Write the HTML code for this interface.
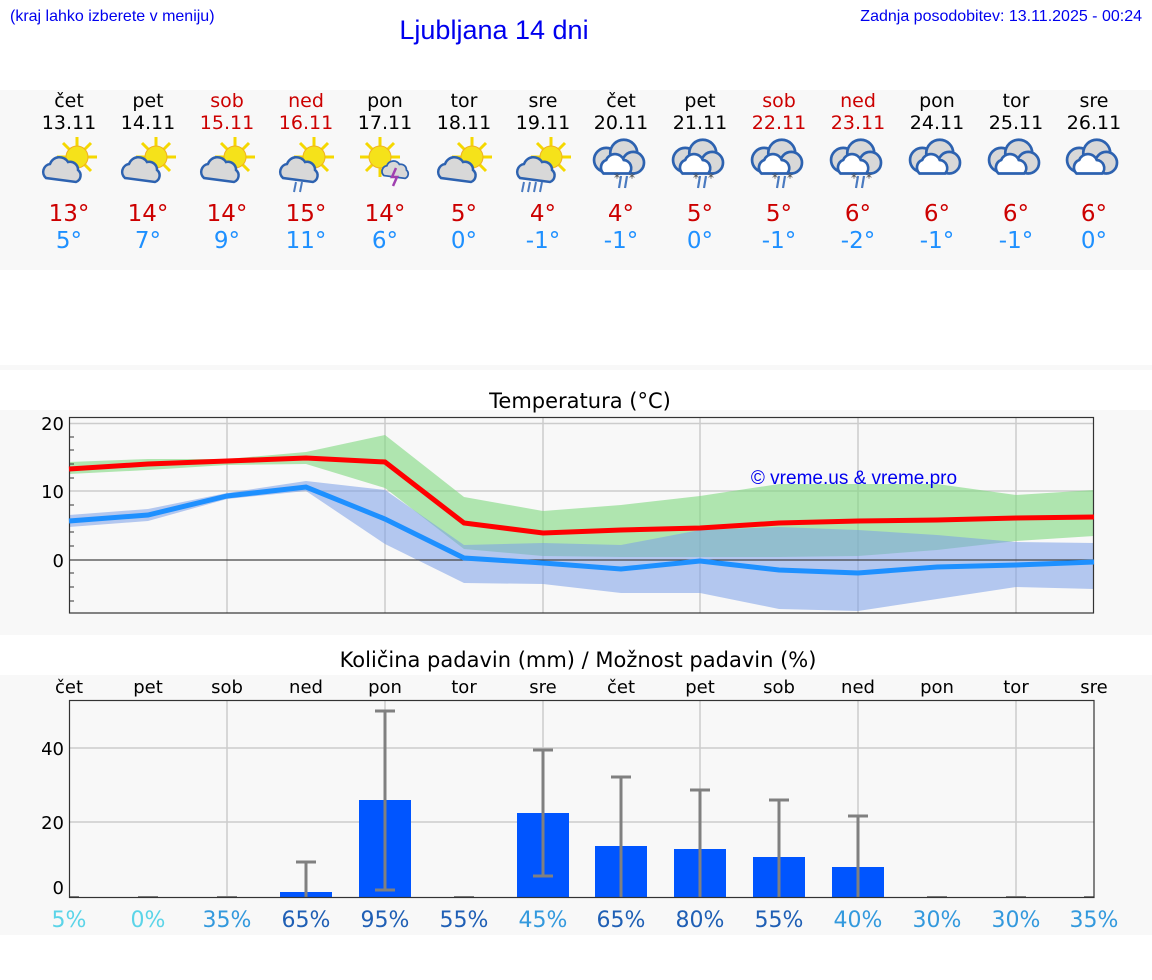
<!DOCTYPE html>
<html><head><meta charset="utf-8"><style>
body{margin:0;background:#fff;width:1152px;height:975px;overflow:hidden;font-family:"Liberation Sans","DejaVu Sans",sans-serif}
svg text{font-family:"DejaVu Sans","Liberation Sans",sans-serif}
</style></head><body>
<svg width="1152" height="975" xmlns="http://www.w3.org/2000/svg">
<defs>
<g id="sun"><g stroke="#f5d800" stroke-width="3"><line x1="0" y1="-20" x2="0" y2="20"/><line x1="-20" y1="0" x2="20" y2="0"/><line x1="-14" y1="-14" x2="14" y2="14"/><line x1="-14" y1="14" x2="14" y2="-14"/></g><circle r="11" fill="#f5e21a" stroke="#f0b020" stroke-width="1"/></g>
<g id="cl"><path d="M-20,8 a8,8 0 0 1 4,-14 a10,10 0 0 1 18,-2 a8,8 0 0 1 10,8 a7,7 0 0 1 -2,12 z" fill="#d8d8d8" stroke="#2d62b0" stroke-width="2.5"/></g>
<g id="bc0"><circle cx="-8" cy="0" r="9" fill="#d8d8d8" stroke="#2d62b0" stroke-width="2"/><circle cx="5" cy="-5" r="10" fill="#d8d8d8" stroke="#2d62b0" stroke-width="2"/><circle cx="12" cy="2" r="8" fill="#d8d8d8" stroke="#2d62b0" stroke-width="2"/><path d="M-10,10 a6,6 0 0 1 2,-10 a7,7 0 0 1 13,0 a6,6 0 0 1 4,10 z" fill="#fff" stroke="#2d62b0" stroke-width="2"/></g>
<g id="bc"><use href="#bc0" transform="scale(1.35)"/></g>
<g id="sn"><path d="M-3,4 l-2,12 M3,4 l-2,12" stroke="#4a7ac0" stroke-width="2.2"/><text x="-10" y="10" font-size="12" fill="#444">*</text><text x="5" y="10" font-size="12" fill="#444">*</text></g>
</defs>
<text x="10" y="21" font-size="16" fill="#0000ee" style="font-family:'Liberation Sans'">(kraj lahko izberete v meniju)</text>
<text x="494" y="39" font-size="27" fill="#0000ee" text-anchor="middle" style="font-family:'Liberation Sans'">Ljubljana 14 dni</text>
<text x="1142" y="21" font-size="16" fill="#0000ee" text-anchor="end" style="font-family:'Liberation Sans'">Zadnja posodobitev: 13.11.2025 - 00:24</text>
<rect x="0" y="90" width="1152" height="180" fill="#f8f8f8"/>
<rect x="0" y="365" width="1152" height="5" fill="#f8f8f8"/>
<rect x="0" y="410" width="1152" height="225" fill="#f8f8f8"/>
<rect x="0" y="675" width="1152" height="260" fill="#f8f8f8"/>
<g font-size="19" text-anchor="middle">
<g fill="#000"><text x="69" y="107">čet</text><text x="69" y="129">13.11</text></g>
<g fill="#000"><text x="148" y="107">pet</text><text x="148" y="129">14.11</text></g>
<g fill="#cc0000"><text x="227" y="107">sob</text><text x="227" y="129">15.11</text></g>
<g fill="#cc0000"><text x="306" y="107">ned</text><text x="306" y="129">16.11</text></g>
<g fill="#000"><text x="385" y="107">pon</text><text x="385" y="129">17.11</text></g>
<g fill="#000"><text x="464" y="107">tor</text><text x="464" y="129">18.11</text></g>
<g fill="#000"><text x="543" y="107">sre</text><text x="543" y="129">19.11</text></g>
<g fill="#000"><text x="621" y="107">čet</text><text x="621" y="129">20.11</text></g>
<g fill="#000"><text x="700" y="107">pet</text><text x="700" y="129">21.11</text></g>
<g fill="#cc0000"><text x="779" y="107">sob</text><text x="779" y="129">22.11</text></g>
<g fill="#cc0000"><text x="858" y="107">ned</text><text x="858" y="129">23.11</text></g>
<g fill="#000"><text x="937" y="107">pon</text><text x="937" y="129">24.11</text></g>
<g fill="#000"><text x="1016" y="107">tor</text><text x="1016" y="129">25.11</text></g>
<g fill="#000"><text x="1094" y="107">sre</text><text x="1094" y="129">26.11</text></g>
</g>
<g>
<use href="#sun" x="77" y="157"/><use href="#cl" x="66" y="170"/>
<use href="#sun" x="156" y="157"/><use href="#cl" x="145" y="170"/>
<use href="#sun" x="235" y="157"/><use href="#cl" x="224" y="170"/>
<use href="#sun" x="314" y="157"/><use href="#cl" x="303" y="170"/><path d="M296,182 l-2,10 M302,182 l-2,10" stroke="#4a7ac0" stroke-width="2"/>
<use href="#sun" x="380" y="157"/><use href="#cl" x="398" y="170" transform="translate(398 170) scale(0.7) translate(-398 -170)"/><path d="M396,168 l-4,9 h5 l-4,9" stroke="#a040b0" stroke-width="2.5" fill="none"/>
<use href="#sun" x="472" y="157"/><use href="#cl" x="461" y="170"/>
<use href="#sun" x="551" y="157"/><use href="#cl" x="540" y="170"/><path d="M524,182 l-2,10 M530,182 l-2,10 M536,182 l-2,10 M542,182 l-2,10" stroke="#4a7ac0" stroke-width="2"/>
<use href="#bc" x="617" y="160"/><use href="#sn" x="624" y="172"/>
<use href="#bc" x="696" y="160"/><use href="#sn" x="703" y="172"/>
<use href="#bc" x="775" y="160"/><use href="#sn" x="782" y="172"/>
<use href="#bc" x="854" y="160"/><use href="#sn" x="861" y="172"/>
<use href="#bc" x="933" y="160"/><use href="#bc" x="1012" y="160"/><use href="#bc" x="1090" y="160"/>
</g>
<g font-size="23" text-anchor="middle" fill="#cc0000">
<text x="69" y="221">13°</text><text x="148" y="221">14°</text><text x="227" y="221">14°</text><text x="306" y="221">15°</text><text x="385" y="221">14°</text><text x="464" y="221">5°</text><text x="543" y="221">4°</text><text x="621" y="221">4°</text><text x="700" y="221">5°</text><text x="779" y="221">5°</text><text x="858" y="221">6°</text><text x="937" y="221">6°</text><text x="1016" y="221">6°</text><text x="1094" y="221">6°</text>
</g>
<g font-size="23" text-anchor="middle" fill="#1e90ff">
<text x="69" y="248">5°</text><text x="148" y="248">7°</text><text x="227" y="248">9°</text><text x="306" y="248">11°</text><text x="385" y="248">6°</text><text x="464" y="248">0°</text><text x="543" y="248">-1°</text><text x="621" y="248">-1°</text><text x="700" y="248">0°</text><text x="779" y="248">-1°</text><text x="858" y="248">-2°</text><text x="937" y="248">-1°</text><text x="1016" y="248">-1°</text><text x="1094" y="248">0°</text>
</g>
<text x="580" y="408" font-size="21" text-anchor="middle">Temperatura (°C)</text>
<g stroke="#cccccc" stroke-width="1.5">
<line x1="69" y1="423.5" x2="1094" y2="423.5"/><line x1="69" y1="491" x2="1094" y2="491"/>
<line x1="227" y1="417" x2="227" y2="613"/><line x1="385" y1="417" x2="385" y2="613"/><line x1="543" y1="417" x2="543" y2="613"/><line x1="700" y1="417" x2="700" y2="613"/><line x1="858" y1="417" x2="858" y2="613"/><line x1="1016" y1="417" x2="1016" y2="613"/>
</g>
<polygon fill="#7fd97f" fill-opacity="0.6" points="69,462 148,459 227,459 306,452 385,435 464,497 543,511 621,505 700,496 779,484 858,484 937,484 1016,495 1094,490 1094,536 1016,541 937,550 858,556 779,557 700,557 621,557 543,556 464,549 385,488 306,464 227,465 148,470 69,474"/>
<polygon fill="#7a9fe8" fill-opacity="0.55" points="69,515 148,509 227,493 306,481 385,490 464,545 543,543 621,545 700,530 779,527 858,530 937,535 1016,542 1094,543 1094,589 1016,587 937,599 858,611 779,609 700,593 621,593 543,584 464,583 385,544 306,491 227,499 148,521 69,527"/>
<line x1="69" y1="560" x2="1094" y2="560" stroke="#444" stroke-width="1.2"/>
<rect x="69.5" y="417.5" width="1024" height="195.5" fill="none" stroke="#333" stroke-width="1.2"/>
<g stroke="#333"><line x1="69" y1="437" x2="74" y2="437"/><line x1="69" y1="450" x2="74" y2="450"/><line x1="69" y1="464" x2="74" y2="464"/><line x1="69" y1="478" x2="74" y2="478"/><line x1="69" y1="505" x2="74" y2="505"/><line x1="69" y1="519" x2="74" y2="519"/><line x1="69" y1="532" x2="74" y2="532"/><line x1="69" y1="546" x2="74" y2="546"/><line x1="69" y1="573" x2="74" y2="573"/><line x1="69" y1="587" x2="74" y2="587"/><line x1="69" y1="601" x2="74" y2="601"/></g>
<g font-size="18" text-anchor="end"><text x="64" y="430">20</text><text x="64" y="498">10</text><text x="64" y="567">0</text></g>
<polyline fill="none" stroke="#ff0000" stroke-width="5" points="69,469 148,464 227,461 306,458 385,462 464,523 543,533 621,530 700,528 779,523 858,521 937,520 1016,518 1094,517"/>
<polyline fill="none" stroke="#1e90ff" stroke-width="5" points="69,521 148,515 227,496 306,487 385,519 464,558 543,563 621,569 700,561 779,570 858,573 937,567 1016,565 1094,562"/>
<text x="854" y="484" font-size="19" fill="#0000ee" text-anchor="middle" style="font-family:'Liberation Sans'">© vreme.us &amp; vreme.pro</text>
<text x="578" y="667" font-size="21" text-anchor="middle">Količina padavin (mm) / Možnost padavin (%)</text>
<g font-size="18" text-anchor="middle">
<text x="69" y="693">čet</text><text x="148" y="693">pet</text><text x="227" y="693">sob</text><text x="306" y="693">ned</text><text x="385" y="693">pon</text><text x="464" y="693">tor</text><text x="543" y="693">sre</text><text x="621" y="693">čet</text><text x="700" y="693">pet</text><text x="779" y="693">sob</text><text x="858" y="693">ned</text><text x="937" y="693">pon</text><text x="1016" y="693">tor</text><text x="1094" y="693">sre</text>
</g>
<g stroke="#cccccc" stroke-width="1.5">
<line x1="69" y1="748" x2="1094" y2="748"/><line x1="69" y1="822" x2="1094" y2="822"/>
<line x1="227" y1="700" x2="227" y2="897"/><line x1="385" y1="700" x2="385" y2="897"/><line x1="543" y1="700" x2="543" y2="897"/><line x1="700" y1="700" x2="700" y2="897"/><line x1="858" y1="700" x2="858" y2="897"/><line x1="1016" y1="700" x2="1016" y2="897"/>
</g>
<g fill="#0055ff">
<rect x="280" y="892" width="52" height="5"/><rect x="359" y="800" width="52" height="97"/><rect x="517" y="813" width="52" height="84"/><rect x="595" y="846" width="52" height="51"/><rect x="674" y="849" width="52" height="48"/><rect x="753" y="857" width="52" height="40"/><rect x="832" y="867" width="52" height="30"/>
</g>
<g stroke="#808080" stroke-width="3">
<line x1="306" y1="862" x2="306" y2="897"/><line x1="296" y1="862" x2="316" y2="862"/>
<line x1="385" y1="711" x2="385" y2="890"/><line x1="375" y1="711" x2="395" y2="711"/><line x1="375" y1="890" x2="395" y2="890"/>
<line x1="543" y1="750" x2="543" y2="876"/><line x1="533" y1="750" x2="553" y2="750"/><line x1="533" y1="876" x2="553" y2="876"/>
<line x1="621" y1="777" x2="621" y2="897"/><line x1="611" y1="777" x2="631" y2="777"/>
<line x1="700" y1="790" x2="700" y2="897"/><line x1="690" y1="790" x2="710" y2="790"/>
<line x1="779" y1="800" x2="779" y2="897"/><line x1="769" y1="800" x2="789" y2="800"/>
<line x1="858" y1="816" x2="858" y2="897"/><line x1="848" y1="816" x2="868" y2="816"/>
<g stroke-width="2"><line x1="69" y1="897" x2="79" y2="897"/><line x1="138" y1="897" x2="158" y2="897"/><line x1="217" y1="897" x2="237" y2="897"/><line x1="454" y1="897" x2="474" y2="897"/><line x1="927" y1="897" x2="947" y2="897"/><line x1="1006" y1="897" x2="1026" y2="897"/><line x1="1084" y1="897" x2="1094" y2="897"/></g>
</g>
<rect x="69.5" y="700.5" width="1024.5" height="197" fill="none" stroke="#333" stroke-width="1.2"/>
<g font-size="18" text-anchor="end"><text x="64" y="755">40</text><text x="64" y="829">20</text><text x="64" y="894">0</text></g>
<g font-size="22" text-anchor="middle">
<text x="69" y="927" fill="#5bd4e8">5%</text><text x="148" y="927" fill="#5bd4e8">0%</text><text x="227" y="927" fill="#3399dd">35%</text><text x="306" y="927" fill="#1f5fb5">65%</text><text x="385" y="927" fill="#1f5fb5">95%</text><text x="464" y="927" fill="#1f5fb5">55%</text><text x="543" y="927" fill="#3399dd">45%</text><text x="621" y="927" fill="#1f5fb5">65%</text><text x="700" y="927" fill="#1f5fb5">80%</text><text x="779" y="927" fill="#1f5fb5">55%</text><text x="858" y="927" fill="#3399dd">40%</text><text x="937" y="927" fill="#3399dd">30%</text><text x="1016" y="927" fill="#3399dd">30%</text><text x="1094" y="927" fill="#3399dd">35%</text>
</g>
</svg>
</body></html>
